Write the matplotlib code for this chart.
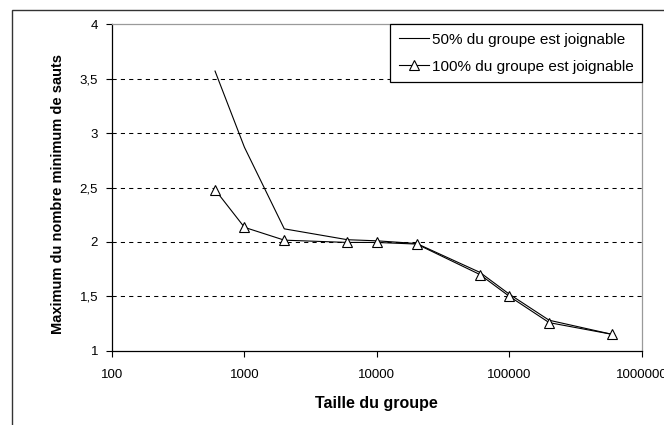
import matplotlib
matplotlib.use("Agg")
import matplotlib.pyplot as plt
from matplotlib.patches import Rectangle
from matplotlib.ticker import FixedLocator, FixedFormatter, NullLocator

plt.rcParams['font.family'] = ['Liberation Sans', 'DejaVu Sans']

# Group sizes and the maximum of the minimum hop count
taille = [600, 1000, 2000, 6000, 10000, 20000, 60000, 100000, 200000, 600000]
sauts_50 = [3.57, 2.87, 2.12, 2.02, 2.01, 1.985, 1.72, 1.52, 1.28, 1.15]
sauts_100 = [2.48, 2.134, 2.016, 1.995, 1.995, 1.98, 1.70, 1.50, 1.258, 1.15]

x_ticks = [100, 1000, 10000, 100000, 1000000]
x_tick_labels = ['100', '1000', '10000', '100000', '1000000']
y_ticks = [1, 1.5, 2, 2.5, 3, 3.5, 4]
y_tick_labels = ['1', '1,5', '2', '2,5', '3', '3,5', '4']
grid_levels = [1.5, 2, 2.5, 3, 3.5]

label_50 = '50% du groupe est joignable'
label_100 = '100% du groupe est joignable'

fig = plt.figure(figsize=(6.64, 4.25), dpi=100)

# Outer chart frame
fig.patches.append(Rectangle((12 / 664, -0.1), 1.2, (425 - 10) / 425 + 0.1,
                             transform=fig.transFigure, fill=False,
                             edgecolor='#333333', linewidth=1.0))

ax = fig.add_axes([112 / 664, (425 - 350.7) / 425, (641.7 - 112) / 664, (350.7 - 24.3) / 425])
ax.set_xscale('log')
ax.set_xlim(100, 1000000)
ax.set_ylim(1, 4)

for g in grid_levels:
    ax.axhline(g, color='black', linewidth=0.75, linestyle=(0, (4, 4)), zorder=1)

ax.plot(taille, sauts_50, color='black', linewidth=0.8, label=label_50, zorder=3)
ax.plot(taille, sauts_100, color='black', linewidth=0.8, marker='^', markersize=6.5,
        markerfacecolor='white', markeredgecolor='black', markeredgewidth=0.8,
        label=label_100, zorder=4)

ax.xaxis.set_major_locator(FixedLocator(x_ticks))
ax.xaxis.set_major_formatter(FixedFormatter(x_tick_labels))
ax.xaxis.set_minor_locator(NullLocator())
ax.yaxis.set_major_locator(FixedLocator(y_ticks))
ax.yaxis.set_major_formatter(FixedFormatter(y_tick_labels))

ax.tick_params(axis='both', direction='out', length=4, width=0.8, color='black',
               labelsize=9.5, labelcolor='black')
ax.tick_params(axis='x', pad=9)
ax.tick_params(axis='y', pad=6)

for side in ('left', 'bottom'):
    ax.spines[side].set_color('black')
    ax.spines[side].set_linewidth(0.9)
for side in ('right', 'top'):
    ax.spines[side].set_color('#9a9a9a')
    ax.spines[side].set_linewidth(0.9)

ax.set_xlabel('Taille du groupe', fontsize=11.5, fontweight='bold')
ax.set_ylabel('Maximum du nombre minimum de sauts', fontsize=10.5, fontweight='bold')
ax.xaxis.set_label_coords(0.5, -0.138)
ax.yaxis.set_label_coords(-0.089, 0.48)

leg = ax.legend(loc='upper right', bbox_to_anchor=(1.0, 1.0), borderaxespad=0,
                fontsize=11, frameon=True, fancybox=False, numpoints=1,
                handlelength=2.0, handletextpad=0.15, labelspacing=0.85,
                borderpad=0.55)
leg.get_frame().set_edgecolor('black')
leg.get_frame().set_linewidth(0.9)
leg.get_frame().set_alpha(1)

fig.savefig('out.png', dpi=100)
